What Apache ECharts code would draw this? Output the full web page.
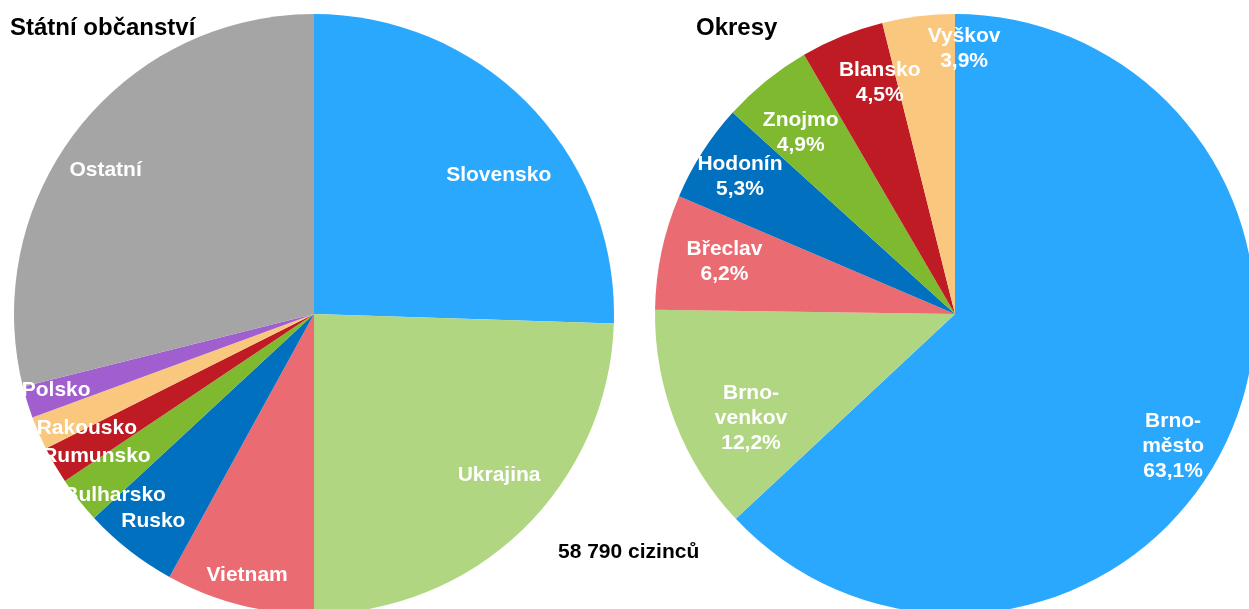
<!DOCTYPE html>
<html>
<head>
<meta charset="utf-8">
<script src="https://cdn.jsdelivr.net/npm/echarts@6/dist/echarts.min.js"></script>
<style>
html,body{margin:0;padding:0;background:#fff;}
#chart{width:1249px;height:609px;}
</style>
</head>
<body>
<div id="chart"></div>
<script>
// ---- data ----
const countries = ['Slovensko', 'Ukrajina', 'Vietnam', 'Rusko', 'Bulharsko', 'Rumunsko', 'Rakousko', 'Polsko', 'Ostatní'];
const countryShares = [25.5, 24.5, 8.0, 5.1, 2.5, 2.0, 1.8, 1.7, 28.9];
const districts = ['Brno-město', 'Brno-venkov', 'Břeclav', 'Hodonín', 'Znojmo', 'Blansko', 'Vyškov'];
const districtShares = [63.1, 12.2, 6.2, 5.3, 4.9, 4.5, 3.9];
const totalForeigners = 58790;
const leftTitle = 'Státní občanství';
const rightTitle = 'Okresy';

// ---- styles ----
const countryColors = ['#2AA8FE', '#B1D682', '#EA6B72', '#0070BF', '#7EB92F', '#BE1B24', '#F9C77E', '#A05ECF', '#A5A5A5'];
const districtColors = ['#2AA8FE', '#B1D682', '#EA6B72', '#0070BF', '#7EB92F', '#BE1B24', '#F9C77E'];
const countryLabelShift = [[3,37],[9,-20],[-4,16],[-5,8],[-1,24],[1,15],[5,14],[-16,2],[-9,12]];
const districtLabelShift = [[-14,31],[32,13],[17,0],[-2,-1],[5,15],[20,3],[40,-14]];
const FONT = "'Liberation Sans', Arial, Helvetica, sans-serif";

const fmtPct = v => v.toFixed(1).replace('.', ',') + '%';
const fmtThousands = n => String(n).replace(/\B(?=(\d{3})+(?!\d))/g, ' ');

const leftData = countries.map((c, i) => ({ name: c, value: countryShares[i], itemStyle: { color: countryColors[i] } }));
const rightData = districts.map((c, i) => ({ name: c, value: districtShares[i], itemStyle: { color: districtColors[i] } }));
const leftLabelData = countries.map((c, i) => ({ name: c, value: countryShares[i] }));
const rightLabelData = districts.map((c, i) => ({ name: c, value: districtShares[i] }));

const labelStyle = {
  show: true,
  position: 'inside',
  color: '#fff',
  fontFamily: FONT,
  fontWeight: 'bold',
  fontSize: 21,
  lineHeight: 25,
  align: 'center'
};

function piePart(center, data) {
  return {
    type: 'pie', center: center, radius: [0, 300], startAngle: 90, clockwise: true,
    silent: true, avoidLabelOverlap: false, minAngle: 0,
    itemStyle: { borderWidth: 0 },
    label: { show: false }, labelLine: { show: false },
    emphasis: { disabled: true },
    data: data
  };
}
function labelRing(center, data, formatter, shifts) {
  return {
    type: 'pie', center: center, radius: [200, 300], startAngle: 90, clockwise: true,
    silent: true, avoidLabelOverlap: false, minAngle: 0, z: 5,
    itemStyle: { color: 'rgba(0,0,0,0)', borderWidth: 0 },
    label: Object.assign({}, labelStyle, { formatter: formatter }),
    labelLine: { show: false },
    labelLayout: p => ({ dx: shifts[p.dataIndex][0], dy: shifts[p.dataIndex][1] }),
    emphasis: { disabled: true },
    data: data
  };
}

const chart = echarts.init(document.getElementById('chart'), null, { renderer: 'canvas' });
chart.setOption({
  animation: false,
  backgroundColor: '#fff',
  series: [
    piePart([314, 314], leftData),
    piePart([955, 314], rightData),
    labelRing([314, 314], leftLabelData, p => p.name, countryLabelShift),
    labelRing([955, 314], rightLabelData, p => p.name.replace('Brno-', 'Brno-\n') + '\n' + fmtPct(p.value), districtLabelShift)
  ],
  graphic: [
    { type: 'text', x: 10, y: 28, z: 10, style: { text: leftTitle, fill: '#000', font: 'bold 24px ' + FONT, verticalAlign: 'middle' } },
    { type: 'text', x: 696, y: 28, z: 10, style: { text: rightTitle, fill: '#000', font: 'bold 24px ' + FONT, verticalAlign: 'middle' } },
    { type: 'text', x: 558, y: 552, z: 10, style: { text: fmtThousands(totalForeigners) + ' cizinců', fill: '#000', font: 'bold 21px ' + FONT, verticalAlign: 'middle' } }
  ]
});
</script>
</body>
</html>
